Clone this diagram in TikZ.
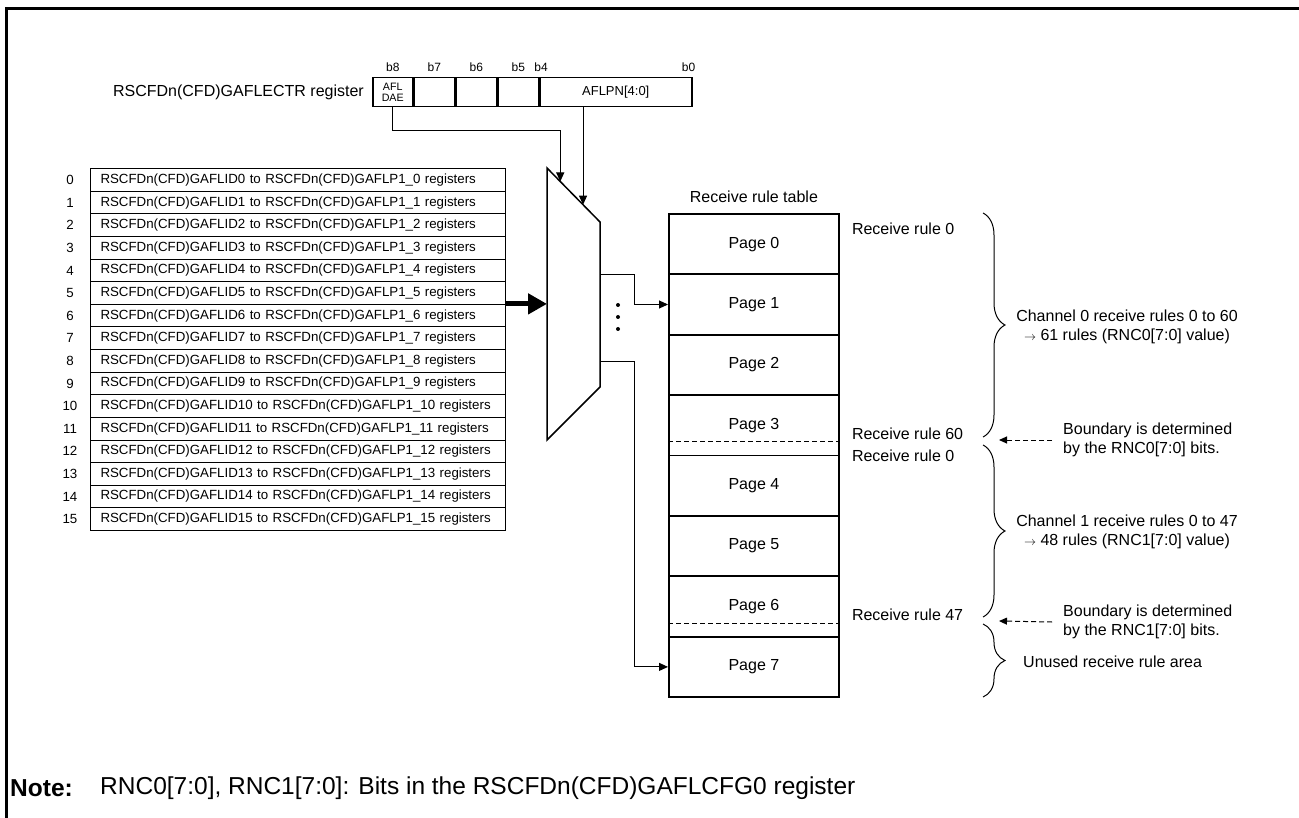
\documentclass[tikz,border=0pt]{standalone}
\usepackage{fontspec}
\setmainfont{Liberation Sans}
\usepackage{tikz}
\usetikzlibrary{positioning, arrows.meta, calc, decorations.pathreplacing}

\begin{document}
\begin{tikzpicture}[
                x=1pt, y=-1pt,
                txt/.style={inner sep=0pt, font=\fontsize{16}{19}\selectfont},
                bitlbl/.style={inner sep=0pt, font=\fontsize{12}{12}\selectfont},
                regrow/.style={draw=black, line width=1pt, anchor=north west, minimum width=415pt, minimum height=22.6pt, inner xsep=10pt, inner ysep=0pt, text width=395pt, align=left, font=\fontsize{13.3}{15}\selectfont},
                idx/.style={inner sep=0pt, font=\fontsize{13.3}{15}\selectfont},
                regcell/.style={draw=black, line width=1.5pt, minimum height=29pt, inner sep=0pt},
                page/.style={draw=black, line width=1.8pt, anchor=north west, minimum width=170pt, minimum height=60.4pt, inner sep=0pt, font=\fontsize{16}{19}\selectfont},
                edge/.style={line width=1pt, -{Triangle[length=9pt, width=8pt]}},
                bigedge/.style={line width=5pt, -{Triangle[length=19pt, width=20pt]}},
                dashedge/.style={line width=1pt, dash pattern=on 5pt off 3pt, -{Triangle[length=8pt, width=7pt]}},
                boundary/.style={line width=1pt, dash pattern=on 5pt off 3pt},
                brc/.style={line width=1pt, decorate, decoration={brace, amplitude=22pt}}
            ]
            \useasboundingbox (0,0) rectangle (1299,818);
            \draw[line width=3pt] (6.2,818) -- (6.2,8.7) -- (1299,8.7);

            % register
            \node[txt, anchor=east] (reglbl) at (364,92) {RSCFDn(CFD)GAFLECTR register};
            \node[regcell, minimum width=40pt, anchor=north west, align=center, font=\fontsize{10.7}{11}\selectfont] (cdae) at (372,77) {AFL\\DAE};
            \node[regcell, minimum width=40pt, right=0pt of cdae] (c7) {};
            \node[regcell, minimum width=41pt, right=0pt of c7] (c6) {};
            \node[regcell, minimum width=40pt, right=0pt of c6] (c5) {};
            \node[regcell, minimum width=152pt, right=0pt of c5, font=\fontsize{13}{15}\selectfont] (cpn) {AFLPN[4:0]};
            \node[bitlbl, above=5pt of cdae] (lb8) {b8};
            \node[bitlbl, above=5pt of c7] (lb7) {b7};
            \node[bitlbl, above=5pt of c6] (lb6) {b6};
            \node[bitlbl, above=5pt of c5] (lb5) {b5};
            \node[bitlbl, above=5pt of cpn.north west, xshift=2pt] (lb4) {b4};
            \node[bitlbl, above=5pt of cpn.north east, xshift=-4pt] (lb0) {b0};

            % rule registers
            \foreach \i in {0,...,15} {
                \node[regrow] (row\i) at (90,168.3+22.6*\i) {RSCFDn(CFD)GAFLID\i{} to RSCFDn(CFD)GAFLP1\_\i{} registers};
                \node[idx] (idx\i) at ([xshift=-20pt]row\i.west) {\i};
            }

            % selector
            \coordinate (mtl) at (547,168);
            \coordinate (mtr) at (600,222);
            \coordinate (mbr) at (600,387);
            \coordinate (mbl) at (547,440);
            \draw[line width=1.5pt] (mtl) -- (mtr) -- (mbr) -- (mbl) -- cycle;
            \coordinate (daein) at ($(mtl)!0.25!(mtr)$);
            \coordinate (pnin) at ($(mtl)!0.68!(mtr)$);
            \coordinate (mout1) at (600,275);
            \coordinate (mout2) at (600,362);
            \foreach \y in {305,317,329} \fill (618,\y) circle (2pt);

            % receive rule table
            \foreach \i in {0,...,7} \node[page] (pg\i) at (668,213+60.4*\i) {Page \i};
            \node[txt, above=10pt of pg0] (tbl) {Receive rule table};
            \draw[boundary] ([yshift=14.5pt]pg3.south west) -- ([yshift=14.5pt]pg3.south east);
            \draw[boundary] ([yshift=14.5pt]pg6.south west) -- ([yshift=14.5pt]pg6.south east);
            \node[txt, anchor=west] (rr0) at ([xshift=12pt, yshift=-16pt]pg0.north east) {Receive rule 0};
            \node[txt, anchor=west] (rr60) at ([xshift=12pt, yshift=22.5pt]pg3.south east) {Receive rule 60};
            \node[txt, anchor=west] (rr0b) at ([xshift=12pt, yshift=-1pt]pg4.north east) {Receive rule 0};
            \node[txt, anchor=west] (rr47) at ([xshift=12pt, yshift=22.5pt]pg6.south east) {Receive rule 47};

            % braces and notes
            \draw[brc] (983,213) -- (983,437);
            \draw[brc] (983,445) -- (983,617);
            \draw[brc] (983,624) -- (983,697);
            \node[txt, align=center] (ch0) at (1127,327) {Channel 0 receive rules 0 to 60\\{\fontsize{12}{12}\selectfont$\rightarrow$} 61 rules (RNC0[7:0] value)};
            \node[txt, align=center] (ch1) at (1127,532) {Channel 1 receive rules 0 to 47\\{\fontsize{12}{12}\selectfont$\rightarrow$} 48 rules (RNC1[7:0] value)};
            \node[txt, anchor=west] (unused) at (1023,662) {Unused receive rule area};
            \node[txt, align=left, anchor=west] (bnd0) at (1063,440) {Boundary is determined\\by the RNC0[7:0] bits.};
            \node[txt, align=left, anchor=west] (bnd1) at (1063,622) {Boundary is determined\\by the RNC1[7:0] bits.};
            \coordinate (tip0) at (999,440);
            \coordinate (tip1) at (999,621);

            \node[inner sep=0pt, anchor=west, font=\fontsize{24.5}{28}\selectfont\bfseries] (notehd) at (10,788) {Note:};
            \node[inner sep=0pt, anchor=west, font=\fontsize{24.5}{28}\selectfont] (notetxt) at (100,788) {RNC0[7:0], RNC1[7:0]: Bits in the RSCFDn(CFD)GAFLCFG0 register};

            % connections
            \draw[edge] (cdae.south) -- ++(0,23) -| (daein);
            \draw[edge] (cpn.south -| pnin) -- (pnin);
            \draw[bigedge] (row6.north east) -- (row6.north east -| mtl);
            \draw[edge] (mout1) -- ++(34,0) |- (pg1.west);
            \draw[edge] (mout2) -- ++(34,0) |- (pg7.west);
            \draw[dashedge] ([xshift=-11pt]bnd0.west) -- (tip0);
            \draw[dashedge] ([xshift=-11pt]bnd1.west) -- (tip1);

        \end{tikzpicture}
\end{document}
